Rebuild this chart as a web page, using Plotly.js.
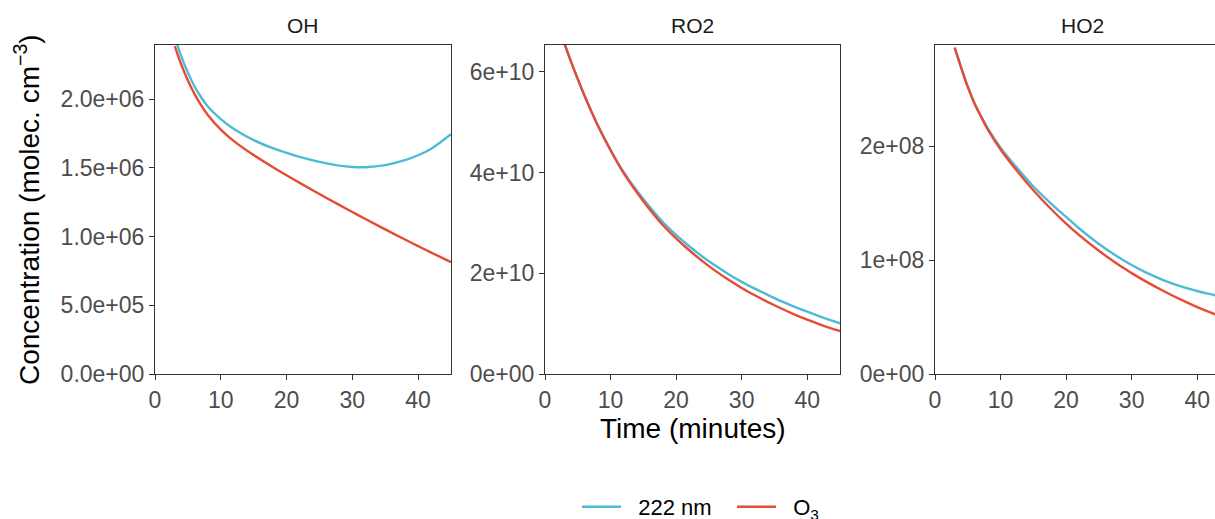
<!DOCTYPE html>
<html>
<head>
<meta charset="utf-8">
<script src="https://cdn.plot.ly/plotly-3.0.1.min.js"></script>
<style>
html,body{margin:0;padding:0;overflow:hidden;background:#fff;width:1215px;height:519px;}
#chart{width:1231px;height:519px;}
</style>
</head>
<body>
<div id="chart"></div>
<script>
// ---- data ----
const time = [3,4,5,6,7,8,10,12,15,18,20,22,25,28,30,32,35,38,40,42,45];

const OH_222 = [2.45,2.31,2.192,2.093,2.013,1.948,1.854,1.782,1.701,1.641,1.609,1.579,1.543,1.516,1.506,1.504,1.519,1.555,1.591,1.639,1.744].map(v => v * 1e6);
const OH_O3  = [2.385,2.25,2.135,2.038,1.956,1.886,1.778,1.694,1.592,1.502,1.446,1.390,1.309,1.230,1.178,1.127,1.052,0.978,0.930,0.883,0.814].map(v => v * 1e6);

const RO2_222 = [6.55,6.194,5.857,5.538,5.24,4.955,4.452,4.009,3.474,3.014,2.762,2.537,2.238,1.983,1.830,1.696,1.508,1.340,1.237,1.140,1.007].map(v => v * 1e10);
const RO2_O3  = [6.55,6.194,5.857,5.538,5.236,4.951,4.444,3.989,3.433,2.955,2.695,2.458,2.142,1.871,1.710,1.563,1.365,1.186,1.080,0.983,0.853].map(v => v * 1e10);

const HO2_222 = [2.862,2.686,2.52,2.38,2.265,2.16,1.985,1.843,1.645,1.48,1.378,1.276,1.141,1.024,0.956,0.896,0.82,0.76,0.728,0.70,0.664].map(v => v * 1e8);
const HO2_O3  = [2.862,2.685,2.518,2.376,2.260,2.150,1.969,1.818,1.612,1.430,1.320,1.218,1.081,0.958,0.885,0.817,0.724,0.639,0.587,0.540,0.476].map(v => v * 1e8);

const panels = ["OH", "RO2", "HO2"];
const seriesNames = ["222 nm", "O<sub>3</sub>"];

const xTickVals = [0,10,20,30,40];
const xTickText = ["0","10","20","30","40"];

const ohTickVals = [0, 5e5, 1e6, 1.5e6, 2e6];
const ohTickText = ["0.0e+00","5.0e+05","1.0e+06","1.5e+06","2.0e+06"];
const ro2TickVals = [0, 2e10, 4e10, 6e10];
const ro2TickText = ["0e+00","2e+10","4e+10","6e+10"];
const ho2TickVals = [0, 1e8, 2e8];
const ho2TickText = ["0e+00","1e+08","2e+08"];

const xTitle = "Time (minutes)";
const yTitle = "Concentration (molec. cm<sup>\u22123</sup>)";

// ---- styling ----
const colBlue = "#4DBBD5";
const colRed = "#E64B35";
const FONT = "Liberation Sans, Arial, sans-serif";
const axisCol = "#333333";
const tickFont = {family: FONT, size: 23, color: "#4D4D4D"};
const legendPad = "&nbsp;&nbsp;";

function mk(x, y, xa, ya, color, name, show) {
  return {x: x, y: y, xaxis: xa, yaxis: ya, type: "scatter", mode: "lines",
    line: {color: color, width: 2.4, shape: "spline", smoothing: 1},
    name: legendPad + name, legendgroup: name, showlegend: show, hoverinfo: "skip"};
}

const traces = [
  mk(time, OH_222, "x", "y", colBlue, seriesNames[0], true),
  mk(time, OH_O3, "x", "y", colRed, seriesNames[1], true),
  mk(time, RO2_222, "x2", "y2", colBlue, seriesNames[0], false),
  mk(time, RO2_O3, "x2", "y2", colRed, seriesNames[1], false),
  mk(time, HO2_222, "x3", "y3", colBlue, seriesNames[0], false),
  mk(time, HO2_O3, "x3", "y3", colRed, seriesNames[1], false)
];

function xax(domain, anchor) {
  return {domain: domain, anchor: anchor, range: [0, 45], tickvals: xTickVals, ticktext: xTickText,
    showline: true, mirror: true, linecolor: axisCol, linewidth: 1, ticks: "outside", ticklen: 5,
    tickcolor: axisCol, tickwidth: 1, showgrid: false, zeroline: false, tickfont: tickFont, fixedrange: true};
}
function yax(range, vals, text, anchor) {
  return {domain: [0, 1], anchor: anchor, range: range, tickvals: vals, ticktext: text,
    showline: true, mirror: true, linecolor: axisCol, linewidth: 1, ticks: "outside", ticklen: 5,
    tickcolor: axisCol, tickwidth: 1, showgrid: false, zeroline: false, tickfont: tickFont, fixedrange: true};
}

const L = 155, R = 1230, W = R - L;
const px = p => (p - L) / W;
const TOP = 45, BOT = 374, H = BOT - TOP;
const py = p => (BOT - p) / H;

const d1 = [0, px(451)], d2 = [px(545), px(840)], d3 = [px(935), 1];

const annotations = panels.map((t, i) => {
  const d = [d1, d2, d3][i];
  return {text: t, xref: "paper", yref: "paper", x: (d[0] + d[1]) / 2, y: py(25),
    xanchor: "center", yanchor: "middle", showarrow: false,
    font: {family: FONT, size: 21, color: "#1A1A1A"}};
});
annotations.push({text: xTitle, xref: "paper", yref: "paper", x: (d2[0] + d2[1]) / 2, y: py(428),
  xanchor: "center", yanchor: "middle", showarrow: false, font: {family: FONT, size: 28, color: "#000"}});
annotations.push({text: yTitle, xref: "paper", yref: "paper", x: px(27), y: py(210), textangle: -90,
  xanchor: "center", yanchor: "middle", showarrow: false, font: {family: FONT, size: 28, color: "#000"}});

const layout = {
  width: 1231, height: 519,
  margin: {l: L, r: 1231 - R, t: TOP, b: 519 - BOT, autoexpand: false},
  paper_bgcolor: "#fff", plot_bgcolor: "#fff",
  font: {family: FONT},
  showlegend: true,
  legend: {orientation: "h", x: px(577), xanchor: "left", y: py(507), yanchor: "middle",
    font: {family: FONT, size: 22, color: "#000"}, bgcolor: "rgba(0,0,0,0)", itemwidth: 39,
    entrywidth: 101, entrywidthmode: "pixels", traceorder: "normal"},
  xaxis: xax(d1, "y"), yaxis: yax([0, 2.393e6], ohTickVals, ohTickText, "x"),
  xaxis2: xax(d2, "y2"), yaxis2: yax([0, 6.535e10], ro2TickVals, ro2TickText, "x2"),
  xaxis3: xax(d3, "y3"), yaxis3: yax([0, 2.886e8], ho2TickVals, ho2TickText, "x3"),
  annotations: annotations
};

Plotly.newPlot("chart", traces, layout, {staticPlot: true, displayModeBar: false});
</script>
</body>
</html>
